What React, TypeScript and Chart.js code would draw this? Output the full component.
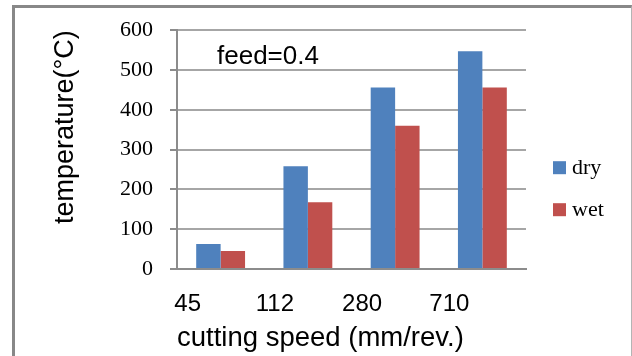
import { useEffect, useRef } from 'react';
import { Chart, registerables } from 'chart.js';

Chart.register(...registerables);

// Cutting speed categories and measured temperatures
const speeds = ['45', '112', '280', '710'];
const dryTemps = [63, 258, 456, 547];
const wetTemps = [45, 168, 360, 456];
const seriesNames = ['dry', 'wet'];
const seriesColors = ['#4F81BD', '#C0504D'];
const yMin = 0;
const yMax = 600;
const yStep = 100;
const feedNote = 'feed=0.4';
const xTitle = 'cutting speed (mm/rev.)';
const yTitle = 'temperature(°C)';

const SANS = '"Liberation Sans", Arial, sans-serif';
const SERIF = '"Liberation Serif", "Times New Roman", serif';
const AXIS_GREY = '#8c8c8c';
const GRID_GREY = '#a6a6a6';

// Legend drawn to the right of the plot, one square swatch per series
const sideLegend = {
  id: 'sideLegend',
  afterDraw(chart: any) {
    const { ctx, chartArea } = chart;
    const x = chartArea.right + 27;
    ctx.save();
    ctx.font = `22px ${SERIF}`;
    ctx.textBaseline = 'middle';
    ctx.textAlign = 'left';
    chart.data.datasets.forEach((ds: any, i: number) => {
      const top = chartArea.top + 131 + i * 42;
      ctx.fillStyle = ds.backgroundColor;
      ctx.fillRect(x, top, 13, 13);
      ctx.fillStyle = '#000';
      ctx.fillText(ds.label, x + 19, top + 7);
    });
    ctx.restore();
  },
};

// Process note in the upper-left of the plot
const noteLabel = {
  id: 'noteLabel',
  afterDraw(chart: any) {
    const { ctx, chartArea } = chart;
    ctx.save();
    ctx.font = `26px ${SANS}`;
    ctx.fillStyle = '#000';
    ctx.textBaseline = 'middle';
    ctx.textAlign = 'left';
    ctx.fillText(feedNote, chartArea.left + 40, chartArea.top + 27);
    ctx.restore();
  },
};

export default function App() {
  const canvasRef = useRef<HTMLCanvasElement | null>(null);

  useEffect(() => {
    if (!canvasRef.current) return;
    const chart = new Chart(canvasRef.current, {
      type: 'bar',
      data: {
        labels: speeds,
        datasets: [
          {
            label: seriesNames[0],
            data: dryTemps,
            backgroundColor: seriesColors[0],
            barPercentage: 1,
            categoryPercentage: 0.56,
          },
          {
            label: seriesNames[1],
            data: wetTemps,
            backgroundColor: seriesColors[1],
            barPercentage: 1,
            categoryPercentage: 0.56,
          },
        ],
      },
      options: {
        animation: false,
        responsive: false,
        layout: { padding: { left: 0, top: 24, right: 106, bottom: 0 } },
        plugins: {
          legend: { display: false },
          tooltip: { enabled: false },
        },
        scales: {
          x: {
            ticks: {
              labelOffset: -33,
              padding: 21,
              color: '#000',
              font: { family: SANS, size: 24 },
            },
            grid: { display: false, drawTicks: false },
            border: { color: AXIS_GREY, width: 2 },
            title: {
              display: true,
              text: xTitle,
              align: 'start',
              color: '#000',
              font: { family: SANS, size: 27.5, lineHeight: 1.2 },
              padding: { top: 0, bottom: 1 },
            },
            afterFit: (s: any) => {
              s.height = 87;
            },
          },
          y: {
            min: yMin,
            max: yMax,
            ticks: {
              stepSize: yStep,
              padding: 17,
              color: '#000',
              font: { family: SERIF, size: 22 },
            },
            grid: { color: GRID_GREY, lineWidth: 2, tickLength: 7, tickColor: AXIS_GREY },
            border: { color: AXIS_GREY, width: 2 },
            title: {
              display: true,
              text: yTitle,
              align: 'end',
              color: '#000',
              font: { family: SANS, size: 27, lineHeight: 1 },
              padding: { top: 52, bottom: 0 },
            },
            afterFit: (s: any) => {
              s.width = 177;
            },
          },
        },
      },
      plugins: [sideLegend, noteLabel],
    } as any);
    return () => chart.destroy();
  }, []);

  return (
    <div
      style={{
        position: 'fixed',
        left: 0,
        top: 0,
        width: 632,
        height: 356,
        overflow: 'hidden',
        background: '#fff',
      }}
    >
      <div
        style={{
          position: 'absolute',
          left: 12,
          top: 5,
          width: 616,
          height: 400,
          borderLeft: '3px solid #888',
          borderTop: '3px solid #888',
          borderRight: '1px solid #b4b4b4',
        }}
      />
      <canvas
        ref={canvasRef}
        width={632}
        height={356}
        style={{ position: 'absolute', left: 0, top: 0 }}
      />
    </div>
  );
}
